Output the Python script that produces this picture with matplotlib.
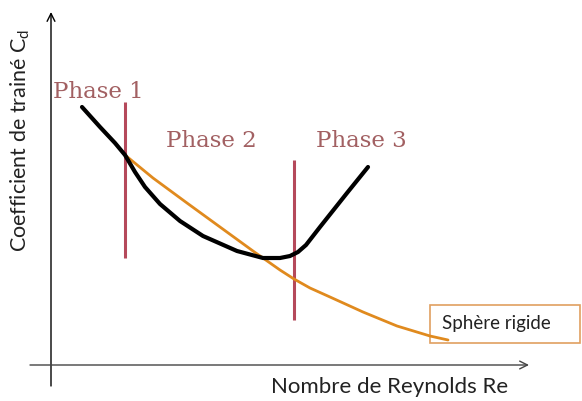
import matplotlib
matplotlib.use("Agg")
import matplotlib.pyplot as plt
from matplotlib.patches import Rectangle

# Schematic drawn in pixel-like units (x right, y down)
black_x = [82, 100, 115, 125, 135, 145, 160, 180, 203, 237, 263, 280, 290, 298, 306, 320, 347, 368]
black_y = [107, 127, 143, 155, 172, 187, 204, 221, 236, 251, 258, 258, 256, 252, 245, 227, 193, 167]

orange_x = [82, 100, 115, 125, 153, 187, 220, 253, 280, 294, 310, 330, 363, 397, 430, 448]
orange_y = [107, 127, 143, 155, 178, 203, 227, 251, 270, 279, 288, 297, 312, 326, 336, 340]

phase_lines_x = [125, 294]
phase_lines_top = [102, 160]
phase_lines_bottom = [258, 320]

phase_labels = ["Phase 1", "Phase 2", "Phase 3"]
phase_label_x = [53, 166, 316]
phase_label_y = [98, 147, 147]

fig = plt.figure(figsize=(5.82, 4.01), dpi=100)
ax = fig.add_axes([0, 0, 1, 1])
ax.set_xlim(0, 582)
ax.set_ylim(401, 0)
ax.axis("off")

# axes arrows
ax.annotate("", xy=(51, 12), xytext=(51, 386),
            arrowprops=dict(arrowstyle="->", color="black", lw=1.0, mutation_scale=14,
                            shrinkA=0, shrinkB=0))
ax.annotate("", xy=(529, 365), xytext=(30, 365),
            arrowprops=dict(arrowstyle="->", color="#444444", lw=1.0, mutation_scale=14,
                            shrinkA=0, shrinkB=0))

# phase separators
for x, t, b in zip(phase_lines_x, phase_lines_top, phase_lines_bottom):
    ax.plot([x, x], [t, b], color="#b5495b", lw=2.2, solid_capstyle="butt")

# curves
ax.plot(orange_x, orange_y, color="#e08a1e", lw=2.0, solid_capstyle="round",
        solid_joinstyle="round")
ax.plot(black_x, black_y, color="black", lw=3.0, solid_capstyle="round",
        solid_joinstyle="round")

for lab, x, y in zip(phase_labels, phase_label_x, phase_label_y):
    ax.text(x, y, lab, color="#a26062", fontsize=16.5, family="DejaVu Serif",
            fontweight="light", ha="left", va="baseline")

# legend box
ax.add_patch(Rectangle((430, 305), 150, 38, fill=False, edgecolor="#e0a060", lw=1.2))
ax.text(442, 324, "Sphère rigide", fontsize=13.5, family="Lato", color="#222222",
        ha="left", va="center")

# axis titles
ax.text(390, 387, "Nombre de Reynolds Re", fontsize=16, family="Lato",
        color="#222222", ha="center", va="center")
ax.text(20, 140, "Coefficient de trainé C$_\\mathregular{d}$", fontsize=15.5, family="Lato",
        color="#222222", ha="center", va="center", rotation=90)

fig.savefig("out.png", dpi=100)
